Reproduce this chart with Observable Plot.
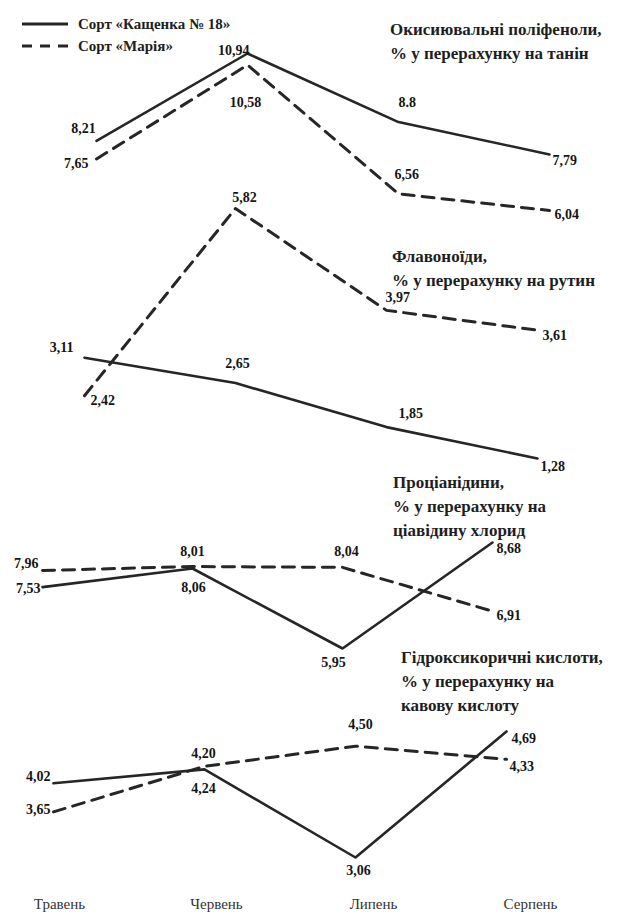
<!DOCTYPE html>
<html>
<head>
<meta charset="utf-8">
<script src="https://cdn.jsdelivr.net/npm/d3@7"></script>
<script src="https://cdn.jsdelivr.net/npm/@observablehq/plot@0.6"></script>
<style>
html, body { margin: 0; padding: 0; background: #fff; }
#chart { position: relative; width: 630px; height: 918px; overflow: hidden; font-family: "Liberation Serif", "Times New Roman", Tinos, "DejaVu Serif", "Noto Serif", serif; color: #1e1e1e; }
#chart svg.plotlayer { position: absolute; left: 0; top: 0; }
.title { position: absolute; font-weight: bold; font-size: 17px; line-height: 24px; white-space: nowrap; }
.legend { position: absolute; left: 22px; top: 13px; font-weight: bold; font-size: 15px; line-height: 22px; }
.legend .row { display: flex; align-items: center; height: 22px; }
.legend svg { width: 46px; height: 10px; margin-right: 10px; }
</style>
</head>
<body>
<div id="chart"></div>
<script>
// ---- data ----
const months = ["Травень", "Червень", "Липень", "Серпень"];
const series = ["Сорт «Кащенка № 18»", "Сорт «Марія»"];

const polyphenolsK = [8.21, 10.94, 8.8, 7.79];
const polyphenolsM = [7.65, 10.58, 6.56, 6.04];
const polyphenolsLabelsK = ["8,21", "10,94", "8.8", "7,79"];
const polyphenolsLabelsM = ["7,65", "10,58", "6,56", "6,04"];

const flavonoidsK = [3.11, 2.65, 1.85, 1.28];
const flavonoidsM = [2.42, 5.82, 3.97, 3.61];
const flavonoidsLabelsK = ["3,11", "2,65", "1,85", "1,28"];
const flavonoidsLabelsM = ["2,42", "5,82", "3,97", "3,61"];

const procyanidinsK = [7.53, 8.01, 5.95, 8.68];
const procyanidinsM = [7.96, 8.06, 8.04, 6.91];
const procyanidinsLabelsK = ["7,53", "8,01", "5,95", "8,68"];
const procyanidinsLabelsM = ["7,96", "8,06", "8,04", "6,91"];

const hydroxyK = [4.02, 4.20, 3.06, 4.69];
const hydroxyM = [3.65, 4.24, 4.50, 4.33];
const hydroxyLabelsK = ["4,02", "4,20", "3,06", "4,69"];
const hydroxyLabelsM = ["3,65", "4,24", "4,50", "4,33"];

const titles = [
  ["Окисиювальні поліфеноли,", "% у перерахунку на танін"],
  ["Флавоноїди,", "% у перерахунку на рутин"],
  ["Проціанідини,", "% у перерахунку на", "ціавідину хлорид"],
  ["Гідроксикоричні кислоти,", "% у перерахунку на", "кавову кислоту"]
];

// ---- layout (label offsets: [textAnchor, dx, dy]) ----
const panels = [
  { K: polyphenolsK, M: polyphenolsM, LK: polyphenolsLabelsK, LM: polyphenolsLabelsM,
    xr: [95, 550], yd: [6.04, 10.94], yr: [210, 53],
    offK: [["middle", -13, -12], ["end", 2, -3], ["start", 0, -20], ["start", 3, 6]],
    offM: [["end", -8, 5], ["middle", -2, 37], ["start", -4, -19], ["start", 5, 4]],
    title: [390, 18] },
  { K: flavonoidsK, M: flavonoidsM, LK: flavonoidsLabelsK, LM: flavonoidsLabelsM,
    xr: [83, 537], yd: [1.28, 5.82], yr: [458, 208],
    offK: [["end", -11, -10], ["middle", 2, -20], ["start", 12, -14], ["start", 3, 8]],
    offM: [["start", 6, 5], ["middle", 9, -11], ["start", -1, -13], ["start", 5, 5]],
    title: [392, 245] },
  { K: procyanidinsK, M: procyanidinsM, LK: procyanidinsLabelsK, LM: procyanidinsLabelsM,
    xr: [41, 493], yd: [5.95, 8.68], yr: [648, 542],
    offK: [["end", -2, 1], ["middle", 0, -17], ["middle", -9, 14], ["start", 4, 6]],
    offM: [["end", -4, -7], ["middle", 1, 21], ["middle", 4, -16], ["start", 4, 4]],
    title: [393, 471] },
  { K: hydroxyK, M: hydroxyM, LK: hydroxyLabelsK, LM: hydroxyLabelsM,
    xr: [53, 506], yd: [3.06, 4.69], yr: [857, 731],
    offK: [["end", -3, -7], ["middle", -1, -16], ["middle", 3, 13], ["start", 5, 7]],
    offM: [["end", -3, -2], ["middle", -1, 22], ["middle", 5, -22], ["start", 3, 7]],
    title: [401, 646] }
];

const INK = "#262626";
const FONT = "'Liberation Serif', 'Times New Roman', Tinos, 'DejaVu Serif', 'Noto Serif', serif";
const chart = document.getElementById("chart");

function layer(svg) {
  svg.classList.add("plotlayer");
  chart.appendChild(svg);
}

panels.forEach((p, pi) => {
  const rowsK = months.map((m, i) => ({ month: m, value: p.K[i], label: p.LK[i], series: series[0] }));
  const rowsM = months.map((m, i) => ({ month: m, value: p.M[i], label: p.LM[i], series: series[1] }));
  const labelMarks = [];
  [[rowsK, p.offK], [rowsM, p.offM]].forEach(([rows, offs]) => {
    rows.forEach((r, i) => {
      const [anchor, dx, dy] = offs[i];
      labelMarks.push(Plot.text([r], {
        x: "month", y: "value", text: "label",
        textAnchor: anchor, dx, dy,
        fill: "#151515", fontSize: 14, fontWeight: "bold"
      }));
    });
  });
  const svg = Plot.plot({
    width: 630, height: 918,
    marginTop: 0, marginRight: 0, marginBottom: 0, marginLeft: 0,
    style: { background: "transparent", overflow: "visible", fontFamily: FONT },
    x: { type: "point", domain: months, range: p.xr, padding: 0, axis: null },
    y: { type: "linear", domain: p.yd, range: p.yr, axis: null },
    marks: [
      Plot.line(rowsK, { x: "month", y: "value", stroke: INK, strokeWidth: 2.6 }),
      Plot.line(rowsM, { x: "month", y: "value", stroke: INK, strokeWidth: 3, strokeDasharray: "12,8" }),
      ...labelMarks
    ]
  });
  layer(svg);

  const t = document.createElement("div");
  t.className = "title";
  t.style.left = p.title[0] + "px";
  t.style.top = p.title[1] + "px";
  t.innerHTML = titles[pi].join("<br>");
  chart.appendChild(t);
});

// month labels (shared x axis along the bottom)
layer(Plot.plot({
  width: 630, height: 918,
  marginTop: 0, marginRight: 0, marginBottom: 0, marginLeft: 0,
  style: { background: "transparent", overflow: "visible", fontFamily: FONT },
  x: { type: "point", domain: months, range: [58, 530], padding: 0, axis: null },
  marks: [
    Plot.text(months, { x: d => d, frameAnchor: "bottom", dy: -10, fill: "#333", fontSize: 15 })
  ]
}));

// legend
const legend = document.createElement("div");
legend.className = "legend";
series.forEach((s, i) => {
  const row = document.createElement("div");
  row.className = "row";
  row.innerHTML = `<svg viewBox="0 0 46 10"><line x1="0" y1="5" x2="46" y2="5" stroke="${INK}" stroke-width="${i ? 3 : 2.8}" ${i ? 'stroke-dasharray="10,8"' : ""}/></svg><span>${s}</span>`;
  legend.appendChild(row);
});
chart.appendChild(legend);
</script>
</body>
</html>
